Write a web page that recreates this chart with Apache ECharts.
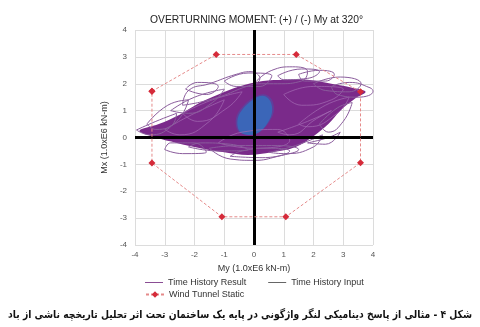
<!DOCTYPE html>
<html><head><meta charset="utf-8">
<script src="https://cdn.jsdelivr.net/npm/echarts@6/dist/echarts.min.js"></script>
<style>html,body{margin:0;padding:0;background:#fff}#c{width:480px;height:327px}</style>
</head><body><div id="c"></div>
<script>
// Axis ticks
const xTicks = [-4,-3,-2,-1,0,1,2,3,4];
const yTicks = [-4,-3,-2,-1,0,1,2,3,4];
// Wind tunnel static envelope (My, Mx)
const windMy = [-3.43,-1.27,1.42,3.58,3.58,1.07,-1.08,-3.43,-3.43];
const windMx = [1.72,3.09,3.09,1.70,-0.94,-2.95,-2.95,-0.95,1.72];
// Dense region outline of the time-history result
const denseMy = [-3.85,-3.2,-2.5,-1.9,-1.2,-0.5,0.3,1.0,1.8,2.6,3.3,3.75,3.4,2.9,2.5,2.0,1.4,0.6,-0.2,-1.0,-1.8,-2.6,-3.3];
const denseMx = [0.25,0.5,0.85,1.25,1.6,1.9,2.1,2.15,2.15,2.0,1.85,1.7,1.45,1.0,0.5,0.05,-0.35,-0.55,-0.65,-0.55,-0.4,-0.2,0.0];
// Outer loops of the time-history result (null = break between loops)
const loopMy = [-2.4,-2.2,-1.5,-0.6,-0.1,0.2,-0.5,-1.5,-2.4,null,
  0.0,0.6,1.3,1.8,1.6,0.8,0.0,null,
  2.6,3.2,3.9,4.0,3.5,2.8,2.6,null,
  2.2,2.8,3.3,3.0,2.5,2.2,null,
  -1.5,-0.8,0.0,0.8,1.5,0.8,-0.5,-1.5,null,
  -3.95,-3.3,-2.6,-2.8,-3.5,-3.95,null,
  -3.0,-2.4,-1.6,-2.0,-2.8,-3.0,null,
  -2.3,-1.9,-1.2,-1.6,-2.3,null,
  1.5,2.2,2.7,2.4,1.7,1.5,null,
  1.8,2.5,2.9,2.4,1.8,null,
  -3.6,-2.9,-2.2,-2.6,-3.3,-3.6,null,
  0.5,1.4,2.3,2.0,1.0,0.5,null,
  -1.0,-0.2,0.6,0.2,-0.6,-1.0,null,
  -2.8,-2.0,-1.0,-1.4,-2.2,-2.8,null,
  -0.8,0.3,1.2,0.6,-0.4,-0.8,null,
  2.0,2.9,3.6,3.2,2.4,2.0,null,
  -2.2,-1.2,-0.2,-0.8,-1.8,-2.2,null,
  0.8,1.6,2.2,1.8,1.0,0.8];
const loopMx = [1.2,1.75,2.0,2.35,2.45,2.2,1.8,1.4,1.2,null,
  2.0,2.5,2.63,2.45,2.1,2.0,2.0,null,
  1.9,2.05,1.85,1.72,1.5,1.6,1.9,null,
  0.5,1.1,1.3,0.6,0.2,0.5,null,
  -0.4,-0.8,-0.85,-0.7,-0.45,-0.3,-0.3,-0.4,null,
  0.28,0.6,0.9,0.4,0.1,0.28,null,
  -0.45,-0.6,-0.55,-0.2,-0.2,-0.45,null,
  1.8,2.05,1.9,1.6,1.8,null,
  2.35,2.5,2.35,2.1,2.1,2.35,null,
  -0.2,0.0,0.2,-0.25,-0.2,null,
  0.5,1.2,1.4,0.6,0.3,0.5,null,
  -0.55,-0.3,0.1,-0.35,-0.6,-0.55,null,
  2.1,2.4,2.3,1.9,1.9,2.1,null,
  1.0,1.5,1.8,1.3,0.9,1.0,null,
  -0.7,-0.75,-0.5,-0.4,-0.5,-0.7,null,
  2.0,2.25,2.0,1.7,1.75,2.0,null,
  -0.35,-0.5,-0.45,-0.25,-0.2,-0.35,null,
  2.3,2.55,2.45,2.2,2.15,2.3];
// Inner texture loops
const innerMy = [-3.0,-2.0,-1.0,-1.5,-2.5,-3.0,null,1.0,2.0,3.0,2.6,1.6,1.0,null,-1.2,0.0,1.2,0.8,-0.4,-1.2,null,1.5,2.4,3.2,2.8,1.8,1.5,null,-2.4,-1.4,-0.4,-0.9,-1.9,-2.4,null,0.8,1.8,2.6,2.1,1.2,0.8];
const innerMx = [0.3,0.9,1.4,0.6,0.1,0.3,null,1.6,1.9,1.8,1.4,1.2,1.6,null,-0.2,-0.4,-0.1,0.3,0.2,-0.2,null,0.5,1.2,1.5,0.9,0.4,0.5,null,0.9,1.4,1.7,1.1,0.6,0.9,null,0.2,0.6,1.0,0.7,0.1,0.2];
// Blue core
const coreMy = [-0.5,-0.55,-0.35,-0.05,0.3,0.55,0.6,0.4,0.1,-0.25];
const coreMx = [0.25,0.7,1.1,1.4,1.55,1.35,0.9,0.45,0.15,0.1];

const caption = 'شکل ۴ - مثالی از پاسخ دینامیکی لنگر واژگونی در پایه یک ساختمان تحت اثر تحلیل تاریخچه ناشی از باد';

const pts = (a,b) => a.map((v,i) => v === null ? ['-','-'] : [v, b[i]]);
const polySeries = (name, xs, ys, color, opacity) => ({
  type: 'custom', name, silent: true, z: 2,
  data: [0],
  renderItem: (params, api) => ({
    type: 'polygon',
    shape: { points: xs.map((v,i) => api.coord([v, ys[i]])), smooth: 0.35 },
    style: { fill: color, opacity }
  })
});

// fit caption width
const capFont = 'bold 11px "DejaVu Sans"';
const mctx = document.createElement('canvas').getContext('2d');
mctx.font = capFont;
const capW = mctx.measureText(caption).width;
const capScale = Math.min(1, 464 / capW);

const chart = echarts.init(document.getElementById('c'), null, {renderer:'canvas'});
const axisCommon = {
  type: 'value', min: -4, max: 4, interval: 1,
  axisLine: { show: false }, axisTick: { show: false },
  splitLine: { lineStyle: { color: '#dcdcdc', width: 1 } },
  axisLabel: { color: '#555', fontSize: 8, fontFamily: 'Liberation Sans' },
  nameLocation: 'middle',
  nameTextStyle: { color: '#333', fontSize: 9, fontFamily: 'Liberation Sans' }
};
const legendText = { fontSize: 9, color: '#333', fontFamily: 'Liberation Sans' };
chart.setOption({
  animation: false,
  title: { text: 'OVERTURNING MOMENT: (+) / (-) My at 320°', left: 145, top: 10,
    textStyle: { fontSize: 10.3, fontWeight: 'normal', color: '#222', fontFamily: 'Liberation Sans' } },
  grid: { left: 135, right: 107, top: 30, bottom: 82 },
  xAxis: Object.assign({}, axisCommon, { name: 'My (1.0xE6 kN-m)', nameGap: 17,
    axisLabel: Object.assign({}, axisCommon.axisLabel, { margin: 6 }) }),
  yAxis: Object.assign({}, axisCommon, { name: 'Mx (1.0xE6 kN-m)', nameGap: 26,
    axisLabel: Object.assign({}, axisCommon.axisLabel, { margin: 8 }) }),
  legend: [
    { data: [{ name: 'Time History Result', icon: 'rect', itemStyle: { color: '#8a4d94' } },
             { name: 'Time History Input', icon: 'rect', itemStyle: { color: '#666' } }],
      left: 140, top: 273, itemWidth: 18, itemHeight: 1, itemGap: 22, textStyle: legendText },
    { data: ['Wind Tunnel Static'], left: 140, top: 285, itemWidth: 18, itemHeight: 8, textStyle: legendText }
  ],
  graphic: [{
    type: 'text', x: 240, y: 315, scaleX: capScale,
    style: { text: caption, font: capFont, fill: '#111', align: 'center', verticalAlign: 'middle' }
  }],
  series: [
    polySeries('dense', denseMy, denseMx, '#7a2a8a', 1),
    {
      name: 'inner', type: 'line', z: 3, symbol: 'none', smooth: 0.5, silent: true,
      connectNulls: false, data: pts(innerMy, innerMx),
      lineStyle: { color: '#a46cb4', width: 1, opacity: 0.7 }
    },
    {
      name: 'Time History Result', type: 'line', z: 3, symbol: 'none', smooth: 0.5,
      connectNulls: false, data: pts(loopMy, loopMx),
      lineStyle: { color: '#8a5c9c', width: 1 }, itemStyle: { color: '#7b2d8e' }
    },
    polySeries('core-halo', coreMy.map(v => v * 1.1), coreMx.map(v => v * 1.04), '#4f4fa8', 0.6),
    polySeries('core', coreMy, coreMx, '#3b66b8', 1),
    {
      name: 'Time History Input', type: 'line', symbol: 'none', data: [],
      lineStyle: { color: '#666', width: 1 }, itemStyle: { color: '#666' }
    },
    {
      name: 'Wind Tunnel Static', type: 'line', z: 5, symbol: 'diamond', symbolSize: 7,
      data: pts(windMy, windMx),
      lineStyle: { color: '#e58a8a', width: 1, type: [3, 2] },
      itemStyle: { color: '#d52b3a' },
      markLine: {
        silent: true, symbol: 'none', label: { show: false },
        lineStyle: { color: '#000', width: 3, type: 'solid' },
        data: [{ xAxis: 0 }, { yAxis: 0 }]
      }
    }
  ]
});
</script></body></html>
